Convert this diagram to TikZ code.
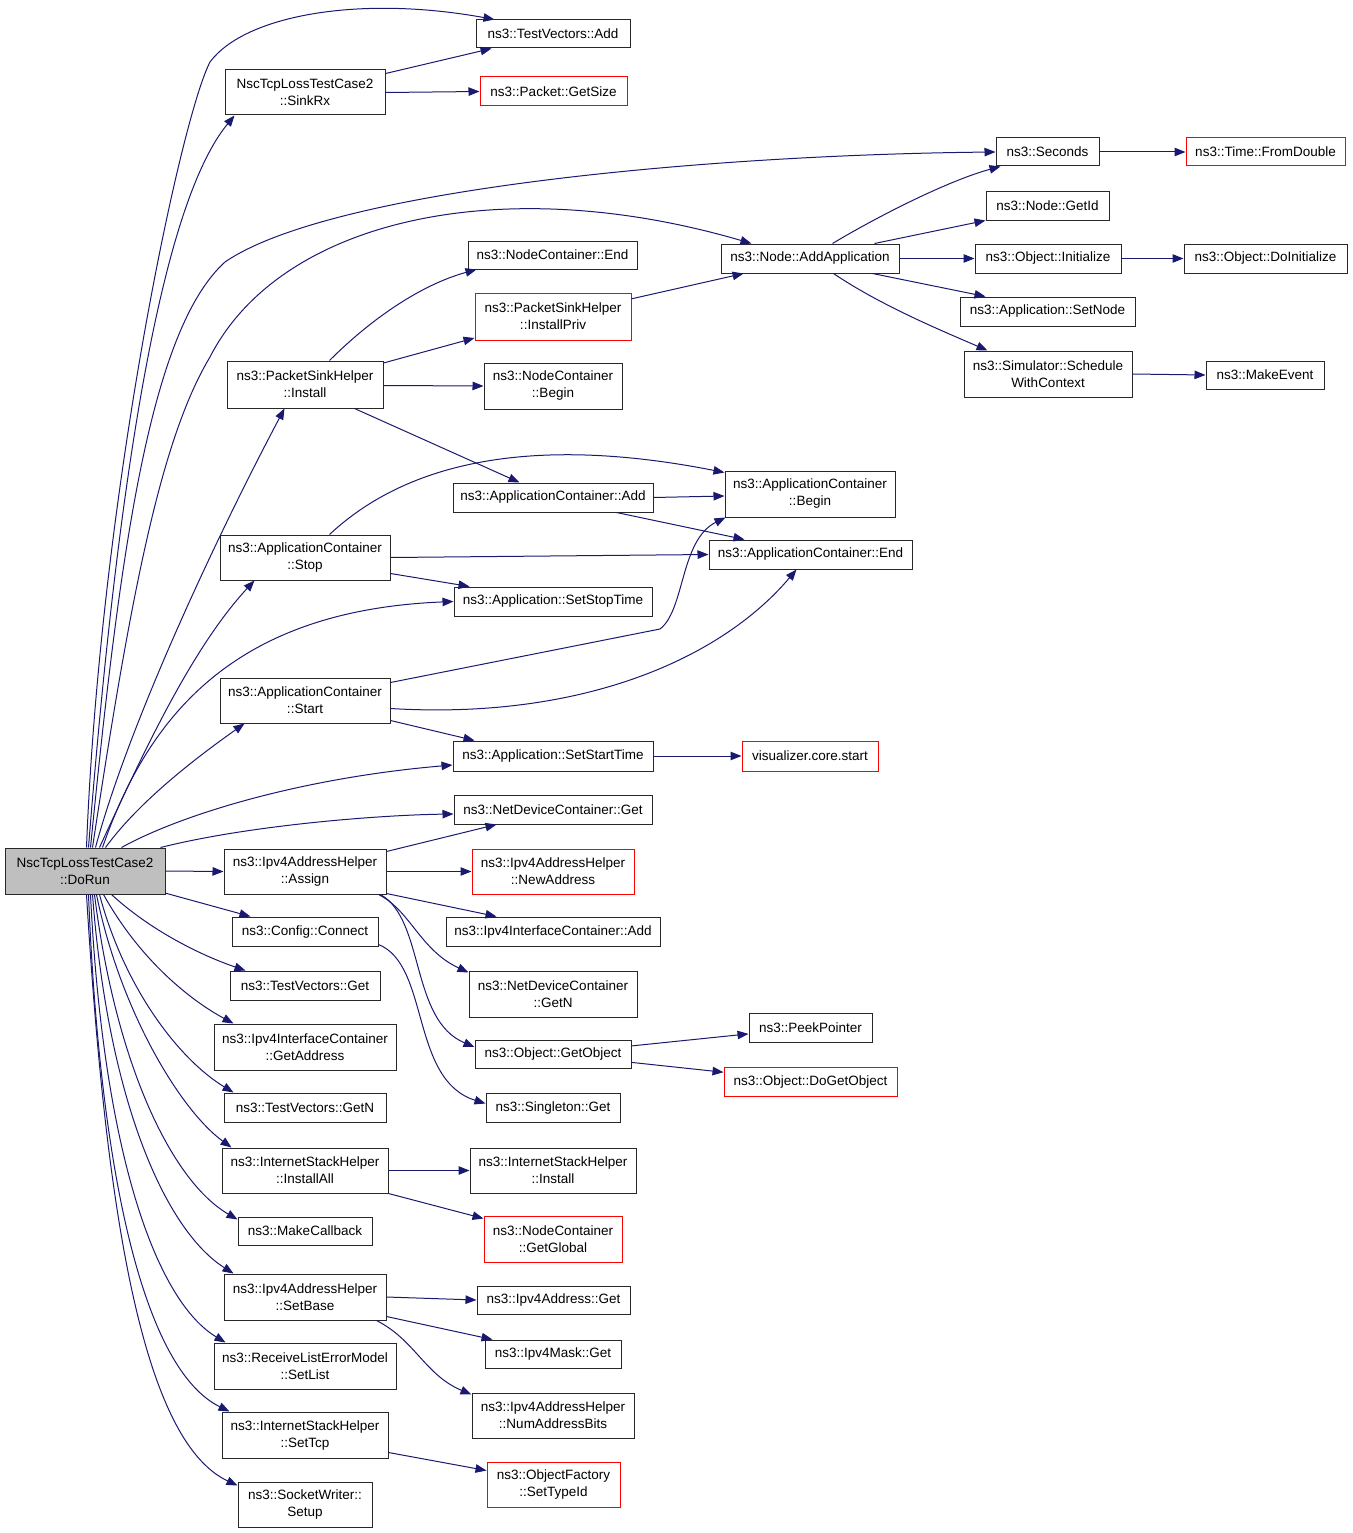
\documentclass[tikz,border=0pt]{standalone}
\usepackage{fontspec}
\setmainfont{Liberation Sans}
\usetikzlibrary{arrows.meta,calc}
\definecolor{edgec}{RGB}{25,25,112}
\definecolor{grayfill}{RGB}{191,191,191}
\definecolor{boxc}{RGB}{40,40,40}
\newcommand\bx[7]{%
 \pgfmathsetmacro\bw{#5-#3}\pgfmathsetmacro\bh{#6-#4}%
 \pgfmathsetmacro\bcx{(#3+#5)/2}\pgfmathsetmacro\bcy{(#4+#6)/2}%
 \node[#1,minimum width=\bw pt,minimum height=\bh pt] (#2) at (\bcx,\bcy) {#7};}
\begin{document}
\begin{tikzpicture}[x=1pt,y=-1pt,
  nb/.style={draw=boxc,line width=1pt,inner sep=0pt,align=center,font=\fontsize{13.5}{17}\selectfont},
  rb/.style={nb,draw=red},
  gb/.style={nb,fill=grayfill},
  e/.style={draw=edgec,line width=1pt,-{Triangle[length=11pt,width=8.5pt]}}]
\useasboundingbox (0,0) rectangle (1352,1533);
% nodes
\bx{gb}{dorun}{5}{848}{165}{894}{NscTcpLossTestCase2\\::DoRun}
\bx{nb}{sinkrx}{225}{70}{385}{115}{NscTcpLossTestCase2\\::SinkRx}
\bx{nb}{tvadd}{476}{20}{630}{48}{ns3::TestVectors::Add}
\bx{rb}{getsize}{480}{77}{627}{106}{ns3::Packet::GetSize}
\bx{nb}{seconds}{996}{138}{1099}{166}{ns3::Seconds}
\bx{rb}{fromdouble}{1186}{138}{1345}{166}{ns3::Time::FromDouble}
\bx{nb}{getid}{986}{192}{1109}{220}{ns3::Node::GetId}
\bx{nb}{addapp}{721}{244}{899}{273}{ns3::Node::AddApplication}
\bx{nb}{init}{975}{244}{1121}{273}{ns3::Object::Initialize}
\bx{nb}{doinit}{1184}{244}{1347}{273}{ns3::Object::DoInitialize}
\bx{nb}{setnode}{960}{297}{1135}{326}{ns3::Application::SetNode}
\bx{nb}{sched}{964}{351}{1132}{397}{ns3::Simulator::Schedule\\WithContext}
\bx{nb}{makeevent}{1206}{361}{1324}{389}{ns3::MakeEvent}
\bx{nb}{ncend}{468}{241}{637}{269}{ns3::NodeContainer::End}
\bx{rb}{instpriv}{475}{293}{631}{340}{ns3::PacketSinkHelper\\::InstallPriv}
\bx{nb}{psinstall}{227}{361}{383}{408}{ns3::PacketSinkHelper\\::Install}
\bx{nb}{ncbegin}{484}{363}{622}{409}{ns3::NodeContainer\\::Begin}
\bx{nb}{acadd}{453}{483}{653}{512}{ns3::ApplicationContainer::Add}
\bx{nb}{acbegin}{725}{471}{895}{517}{ns3::ApplicationContainer\\::Begin}
\bx{nb}{acstop}{220}{535}{390}{580}{ns3::ApplicationContainer\\::Stop}
\bx{nb}{acend}{709}{540}{912}{569}{ns3::ApplicationContainer::End}
\bx{nb}{setstop}{454}{587}{652}{616}{ns3::Application::SetStopTime}
\bx{nb}{acstart}{220}{678}{390}{723}{ns3::ApplicationContainer\\::Start}
\bx{nb}{setstart}{453}{741}{653}{771}{ns3::Application::SetStartTime}
\bx{rb}{viz}{742}{741}{878}{771}{visualizer.core.start}
\bx{nb}{ndget}{454}{795}{652}{824}{ns3::NetDeviceContainer::Get}
\bx{nb}{assign}{224}{849}{386}{894}{ns3::Ipv4AddressHelper\\::Assign}
\bx{rb}{newaddr}{472}{849}{634}{894}{ns3::Ipv4AddressHelper\\::NewAddress}
\bx{nb}{connect}{232}{917}{378}{946}{ns3::Config::Connect}
\bx{nb}{ifadd}{446}{917}{660}{946}{ns3::Ipv4InterfaceContainer::Add}
\bx{nb}{tvget}{230}{971}{380}{1000}{ns3::TestVectors::Get}
\bx{nb}{getn}{469}{971}{637}{1017}{ns3::NetDeviceContainer\\::GetN}
\bx{nb}{getaddr}{214}{1024}{396}{1070}{ns3::Ipv4InterfaceContainer\\::GetAddress}
\bx{nb}{getobj}{475}{1040}{631}{1068}{ns3::Object::GetObject}
\bx{nb}{peek}{749}{1013}{872}{1042}{ns3::PeekPointer}
\bx{rb}{dogetobj}{724}{1067}{897}{1096}{ns3::Object::DoGetObject}
\bx{nb}{tvgetn}{224}{1093}{386}{1122}{ns3::TestVectors::GetN}
\bx{nb}{singleton}{486}{1093}{620}{1122}{ns3::Singleton::Get}
\bx{nb}{installall}{222}{1148}{388}{1193}{ns3::InternetStackHelper\\::InstallAll}
\bx{nb}{ishinstall}{470}{1148}{636}{1193}{ns3::InternetStackHelper\\::Install}
\bx{nb}{makecb}{238}{1217}{372}{1245}{ns3::MakeCallback}
\bx{rb}{getglobal}{484}{1216}{622}{1262}{ns3::NodeContainer\\::GetGlobal}
\bx{nb}{setbase}{224}{1274}{386}{1320}{ns3::Ipv4AddressHelper\\::SetBase}
\bx{nb}{addrget}{477}{1286}{630}{1314}{ns3::Ipv4Address::Get}
\bx{nb}{setlist}{214}{1343}{396}{1389}{ns3::ReceiveListErrorModel\\::SetList}
\bx{nb}{maskget}{485}{1340}{621}{1368}{ns3::Ipv4Mask::Get}
\bx{nb}{numbits}{472}{1393}{634}{1438}{ns3::Ipv4AddressHelper\\::NumAddressBits}
\bx{nb}{settcp}{222}{1412}{388}{1458}{ns3::InternetStackHelper\\::SetTcp}
\bx{rb}{settypeid}{487}{1462}{620}{1507}{ns3::ObjectFactory\\::SetTypeId}
\bx{nb}{setup}{238}{1482}{372}{1527}{ns3::SocketWriter::\\Setup}
% edges from DoRun (top)
\draw[e] ($(dorun.north west)+(82,0)$) .. controls (100,500) and (180,120) .. (210,62) .. controls (245,15) and (360,-5) .. ($(tvadd.north west)+(19,0)$);
\draw[e] ($(dorun.north west)+(84,0)$) .. controls (120,450) and (165,200) .. ($(sinkrx.south west)+(10,0)$);
\draw[e] ($(dorun.north west)+(86,0)$) .. controls (120,550) and (150,330) .. (225,262) .. controls (330,190) and (700,155) .. (seconds.west);
\draw[e] ($(dorun.north west)+(88,0)$) .. controls (130,600) and (160,440) .. (210,357) .. controls (280,220) and (500,170) .. ($(addapp.north west)+(31,0)$);
\draw[e] ($(dorun.north west)+(91,0)$) .. controls (130,720) and (220,530) .. ($(psinstall.south west)+(58,0)$);
\draw[e] ($(dorun.north west)+(95,0)$) .. controls (140,760) and (190,650) .. ($(acstop.south west)+(35,0)$);
\draw[e] ($(dorun.north west)+(98,0)$) .. controls (150,710) and (240,610) .. (setstop.west);
\draw[e] ($(dorun.north west)+(101,0)$) .. controls (140,800) and (200,755) .. ($(acstart.south west)+(25,0)$);
\draw[e] ($(dorun.north west)+(117,0)$) .. controls (180,815) and (300,778) .. ($(setstart.west)+(0,9)$);
\draw[e] ($(dorun.north east)+(-5,0)$) .. controls (250,825) and (380,815) .. ($(ndget.west)+(0,4.5)$);
\draw[e] (dorun.east) -- (assign.west);
\draw[e] (dorun) -- (connect);
% edges from DoRun (bottom)
\draw[e] ($(dorun.south west)+(107,0)$) .. controls (150,930) and (200,955) .. ($(tvget.north west)+(16,0)$);
\draw[e] ($(dorun.south west)+(99,0)$) .. controls (140,960) and (190,1000) .. ($(getaddr.north west)+(20,0)$);
\draw[e] ($(dorun.south west)+(95,0)$) .. controls (125,990) and (180,1060) .. ($(tvgetn.north west)+(10,0)$);
\draw[e] ($(dorun.south west)+(92,0)$) .. controls (120,1010) and (180,1110) .. ($(installall.north west)+(10,0)$);
\draw[e] ($(dorun.south west)+(90,0)$) .. controls (115,1060) and (170,1180) .. ($(makecb.north west)+(0,3)$);
\draw[e] ($(dorun.south west)+(88,0)$) .. controls (108,1100) and (165,1230) .. ($(setbase.north west)+(10,0)$);
\draw[e] ($(dorun.south west)+(86,0)$) .. controls (103,1150) and (155,1300) .. ($(setlist.north west)+(12,0)$);
\draw[e] ($(dorun.south west)+(84,0)$) .. controls (100,1180) and (145,1370) .. ($(settcp.north west)+(8,0)$);
\draw[e] ($(dorun.south west)+(82,0)$) .. controls (105,1200) and (140,1440) .. ($(setup.north west)+(0,4)$);
% other edges
\draw[e] (sinkrx) -- (tvadd);
\draw[e] (sinkrx.east) -- (getsize.west);
\draw[e] (seconds.east) -- (fromdouble.west);
\draw[e] ($(addapp.north west)+(112,0)$) .. controls (880,215) and (950,180) .. ($(seconds.south west)+(5,0)$);
\draw[e] ($(addapp.north west)+(154,0)$) -- ($(getid.south west)+(0,0)$);
\draw[e] (addapp.east) -- (init.west);
\draw[e] ($(addapp.south west)+(152,0)$) -- ($(setnode.north west)+(26,0)$);
\draw[e] ($(addapp.south west)+(113,0)$) .. controls (880,305) and (940,330) .. ($(sched.north west)+(24,0)$);
\draw[e] (init.east) -- (doinit.west);
\draw[e] (sched.east) -- (makeevent.west);
\draw[e] ($(psinstall.north west)+(103,0)$) .. controls (370,320) and (420,285) .. ($(ncend.south west)+(9,0)$);
\draw[e] (psinstall) -- (instpriv);
\draw[e] ($(psinstall.east)+(0,1)$) -- (ncbegin.west);
\draw[e] ($(psinstall.south west)+(128,0)$) -- ($(acadd.north west)+(67,0)$);
\draw[e] (instpriv) -- (addapp);
\draw[e] (acadd.east) -- ($(acbegin.west)+(0,2)$);
\draw[e] ($(acadd.south west)+(164,0)$) -- ($(acend.north west)+(36,0)$);
\draw[e] ($(acstop.north west)+(110,0)$) .. controls (420,450) and (560,440) .. ($(acbegin.north west)+(0,2)$);
\draw[e] (acstop.east) -- (acend.west);
\draw[e] ($(acstop.south east)+(0,-7)$) -- ($(setstop.north west)+(16,0)$);
\draw[e] ($(acstart.north east)+(0,5)$) -- (660,629) .. controls (685,610) and (680,540) .. ($(acbegin.south west)+(1,0)$);
\draw[e] ($(acstart.east)+(0,8)$) .. controls (580,720) and (720,660) .. ($(acend.south west)+(88,0)$);
\draw[e] ($(acstart.south east)+(0,-3)$) -- ($(setstart.north west)+(22,0)$);
\draw[e] (setstart.east) -- (viz.west);
\draw[e] ($(assign.north east)+(0,3)$) -- ($(ndget.south west)+(43,0)$);
\draw[e] (assign.east) -- (newaddr.west);
\draw[e] ($(assign.south east)+(0,-1)$) -- ($(ifadd.north west)+(51,0)$);
\draw[e] ($(assign.south east)+(-8,0)$) .. controls (410,910) and (420,950) .. ($(getn.north west)+(0,2)$);
\draw[e] ($(assign.south east)+(-6,0)$) .. controls (425,920) and (410,1020) .. ($(getobj.west)+(0,-7)$);
\draw[e] ($(connect.south east)+(0,-2)$) .. controls (430,965) and (410,1080) .. ($(singleton.west)+(0,-4)$);
\draw[e] (getobj) -- (peek);
\draw[e] (getobj) -- (dogetobj);
\draw[e] (installall.east) -- (ishinstall.west);
\draw[e] (installall.south east) -- ($(getglobal.north west)+(0,3)$);
\draw[e] (setbase.east) -- (addrget.west);
\draw[e] ($(setbase.south east)+(0,-4)$) -- ($(maskget.north west)+(8,0)$);
\draw[e] ($(setbase.south east)+(-10,0)$) .. controls (415,1340) and (425,1375) .. ($(numbits.north west)+(0,2)$);
\draw[e] ($(settcp.south east)+(0,-6)$) -- ($(settypeid.west)+(0,-14)$);
\end{tikzpicture}
\end{document}
